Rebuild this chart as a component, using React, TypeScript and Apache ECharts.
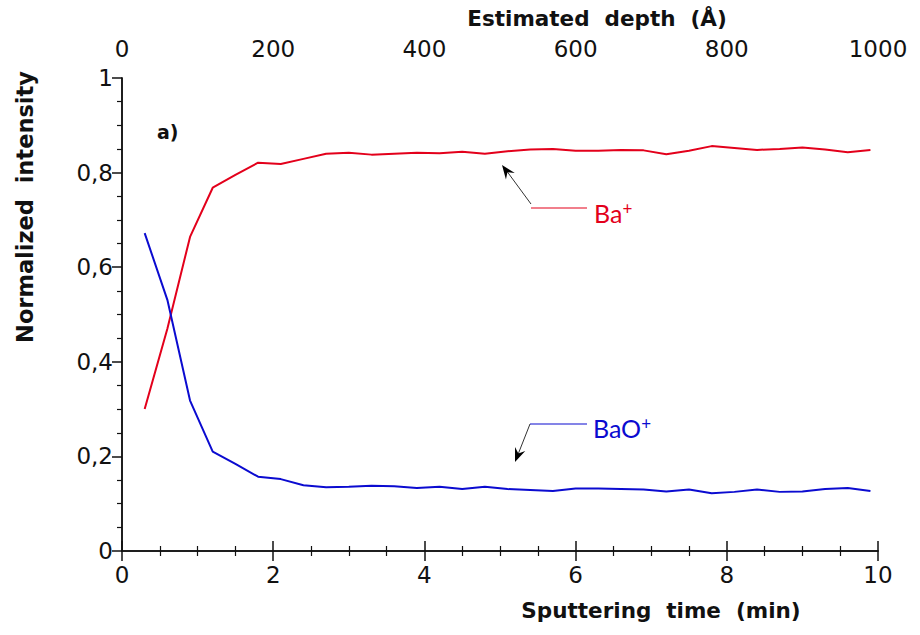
import React, { useEffect, useRef } from "react";
import * as echarts from "echarts";

const sputterTime = [0.3, 0.6, 0.9, 1.2, 1.5, 1.8, 2.1, 2.4, 2.7, 3.0, 3.3, 3.6, 3.9, 4.2, 4.5, 4.8, 5.1, 5.4, 5.7, 6.0, 6.3, 6.6, 6.9, 7.2, 7.5, 7.8, 8.1, 8.4, 8.7, 9.0, 9.3, 9.6, 9.9];
const baPlus = [0.300, 0.470, 0.664, 0.768, 0.795, 0.821, 0.818, 0.829, 0.840, 0.842, 0.838, 0.840, 0.842, 0.841, 0.844, 0.840, 0.845, 0.849, 0.850, 0.846, 0.846, 0.848, 0.847, 0.839, 0.846, 0.856, 0.852, 0.848, 0.850, 0.853, 0.849, 0.843, 0.848];
const baoPlus = [0.672, 0.531, 0.318, 0.210, 0.184, 0.157, 0.152, 0.139, 0.135, 0.136, 0.138, 0.137, 0.133, 0.136, 0.131, 0.136, 0.131, 0.129, 0.127, 0.132, 0.132, 0.131, 0.130, 0.126, 0.130, 0.122, 0.125, 0.130, 0.125, 0.126, 0.131, 0.133, 0.127];

const RED = "#e3001b";
const BLUE = "#0b0bd0";
const AXIS = "#111111";
const FONT = "'DejaVu Sans', sans-serif";
const LABEL_FONT = "Lato, sans-serif";

function arrowHead(sx: number, sy: number, tx: number, ty: number) {
  const dx = tx - sx;
  const dy = ty - sy;
  const len = Math.sqrt(dx * dx + dy * dy);
  const ux = dx / len;
  const uy = dy / len;
  const nx = -uy;
  const ny = ux;
  const L = 14;
  const W = 5.5;
  return [
    [tx, ty],
    [tx - L * ux + W * nx, ty - L * uy + W * ny],
    [tx - 0.65 * L * ux, ty - 0.65 * L * uy],
    [tx - L * ux - W * nx, ty - L * uy - W * ny],
  ];
}

export default function App() {
  const ref = useRef<HTMLDivElement>(null);
  useEffect(() => {
    document.body.style.margin = "0";
    if (!ref.current) return;
    const chart = echarts.init(ref.current, null, { renderer: "svg" });
    const axisCommon = {
      axisLine: { show: true, lineStyle: { color: AXIS, width: 1.5 } },
      axisTick: { show: true, inside: false, length: 10, lineStyle: { color: AXIS, width: 1.5 } },
      minorTick: { show: true, splitNumber: 4, length: 5, lineStyle: { color: AXIS, width: 1.2 } },
      splitLine: { show: false },
      minorSplitLine: { show: false },
    };
    const baArrow = { sx: 531, sy: 204, tx: 502, ty: 165 };
    const baoArrow = { sx: 530, sy: 424, tx: 515, ty: 462 };
    chart.setOption({
      animation: false,
      backgroundColor: "#ffffff",
      grid: { left: 122, right: 42, top: 78, bottom: 84, containLabel: false },
      xAxis: [
        {
          type: "value",
          position: "bottom",
          min: 0,
          max: 10,
          interval: 2,
          ...axisCommon,
          axisLabel: { color: AXIS, fontSize: 23, fontFamily: FONT, margin: 12, formatter: (v: number) => String(v) },
        },
        {
          type: "value",
          position: "top",
          min: 0,
          max: 1000,
          interval: 200,
          ...axisCommon,
          axisLabel: { color: AXIS, fontSize: 23, fontFamily: FONT, margin: 18, formatter: (v: number) => String(v) },
        },
      ],
      yAxis: [
        {
          type: "value",
          position: "left",
          min: 0,
          max: 1,
          interval: 0.2,
          ...axisCommon,
          axisLabel: {
            color: AXIS,
            fontSize: 23,
            fontFamily: FONT,
            margin: 9,
            formatter: (v: number) => String(Math.round(v * 10) / 10).replace(".", ","),
          },
        },
        {
          type: "value",
          position: "right",
          min: 0,
          max: 1,
          axisLine: { show: true, lineStyle: { color: AXIS, width: 1.5 } },
          axisTick: { show: false },
          axisLabel: { show: false },
          splitLine: { show: false },
        },
      ],
      series: [
        {
          name: "Ba+",
          type: "line",
          xAxisIndex: 0,
          yAxisIndex: 0,
          showSymbol: false,
          lineStyle: { color: RED, width: 2 },
          data: sputterTime.map((t, i) => [t, baPlus[i]]),
        },
        {
          name: "BaO+",
          type: "line",
          xAxisIndex: 0,
          yAxisIndex: 0,
          showSymbol: false,
          lineStyle: { color: BLUE, width: 2 },
          data: sputterTime.map((t, i) => [t, baoPlus[i]]),
        },
      ],
      graphic: [
        {
          type: "text",
          x: 597,
          y: 18,
          style: { text: "Estimated  depth  (Å)", fontSize: 21.5, fontWeight: "bold", fontFamily: FONT, fill: AXIS, textAlign: "center", textVerticalAlign: "middle" },
        },
        {
          type: "text",
          x: 661,
          y: 610,
          style: { text: "Sputtering  time  (min)", fontSize: 21.5, fontWeight: "bold", fontFamily: FONT, fill: AXIS, textAlign: "center", textVerticalAlign: "middle" },
        },
        {
          type: "text",
          x: 25,
          y: 207,
          rotation: Math.PI / 2,
          style: { text: "Normalized  intensity", fontSize: 22.5, fontWeight: "bold", fontFamily: FONT, fill: AXIS, textAlign: "center", textVerticalAlign: "middle" },
        },
        {
          type: "text",
          x: 157,
          y: 132,
          style: { text: "a)", fontSize: 19, fontWeight: "bold", fontFamily: FONT, fill: AXIS, textAlign: "left", textVerticalAlign: "middle" },
        },
        // Ba+ annotation
        { type: "line", shape: { x1: 531, y1: 208, x2: 587, y2: 208 }, style: { stroke: RED, lineWidth: 1.2 } },
        { type: "line", shape: { x1: baArrow.sx, y1: baArrow.sy, x2: baArrow.tx + 4, y2: baArrow.ty + 5 }, style: { stroke: "#333", lineWidth: 1 } },
        { type: "polygon", shape: { points: arrowHead(baArrow.sx, baArrow.sy, baArrow.tx, baArrow.ty) }, style: { fill: "#000" } },
        {
          type: "text",
          x: 594,
          y: 213,
          style: {
            text: "{b|Ba}{s|+}",
            fill: RED,
            textAlign: "left",
            textVerticalAlign: "middle",
            rich: {
              b: { fontSize: 25, fontFamily: LABEL_FONT, fill: RED, lineHeight: 26 },
              s: { fontSize: 17, fontFamily: LABEL_FONT, fill: RED, verticalAlign: "top", lineHeight: 15 },
            },
          },
        },
        // BaO+ annotation
        { type: "line", shape: { x1: 530, y1: 424, x2: 587, y2: 424 }, style: { stroke: BLUE, lineWidth: 1.2 } },
        { type: "line", shape: { x1: baoArrow.sx, y1: baoArrow.sy, x2: baoArrow.tx + 2, y2: baoArrow.ty - 5 }, style: { stroke: "#333", lineWidth: 1 } },
        { type: "polygon", shape: { points: arrowHead(baoArrow.sx, baoArrow.sy, baoArrow.tx, baoArrow.ty) }, style: { fill: "#000" } },
        {
          type: "text",
          x: 593,
          y: 428,
          style: {
            text: "{b|BaO}{s|+}",
            fill: BLUE,
            textAlign: "left",
            textVerticalAlign: "middle",
            rich: {
              b: { fontSize: 25, fontFamily: LABEL_FONT, fill: BLUE, lineHeight: 26 },
              s: { fontSize: 17, fontFamily: LABEL_FONT, fill: BLUE, verticalAlign: "top", lineHeight: 15 },
            },
          },
        },
      ],
    });
    return () => chart.dispose();
  }, []);
  return <div ref={ref} style={{ width: 920, height: 635 }} />;
}
